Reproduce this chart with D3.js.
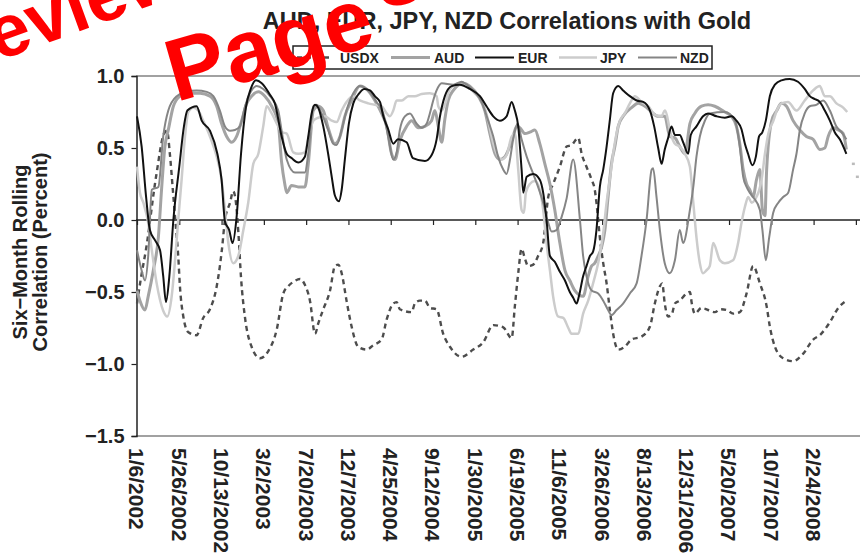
<!DOCTYPE html>
<html><head><meta charset="utf-8">
<script src="https://cdn.jsdelivr.net/npm/d3@7"></script>
<style>
html,body{margin:0;padding:0;background:#fff;}
svg{display:block;font-family:"Liberation Sans",Arial,sans-serif;}
</style></head>
<body><svg id="c" width="862" height="558"></svg>
<script>
const titleText = "AUD, EUR, JPY, NZD Correlations with Gold";
const yTitleLines = ["Six\u2212Month Rolling", "Correlation (Percent)"];
const seriesNames = ["USDX", "AUD", "EUR", "JPY", "NZD"];
const tickWeeks = [0,20,40,60,80,100,120,140,160,180,200,220,240,260,280,300,320,340];
const tickLabels = ["1/6/2002","5/26/2002","10/13/2002","3/2/2003","7/20/2003","12/7/2003","4/25/2004","9/12/2004","1/30/2005","6/19/2005","11/6/2005","3/26/2006","8/13/2006","12/31/2006","5/20/2007","10/7/2007","2/24/2008",""];
const yTicks = [1.0, 0.5, 0.0, -0.5, -1.0, -1.5];

// [week since 1/6/2002, correlation]
const usdxData = [[0,-0.58],[1.9,-0.4],[4.3,-0.2],[9,0.3],[12.8,0.6],[14.2,0.62],[15.6,0.45],[17,0.2],[18.4,-0.05],[19.5,-0.25],[20.3,-0.46],[21.9,-0.67],[24.3,-0.78],[28.2,-0.8],[31.3,-0.68],[34.5,-0.62],[37.7,-0.46],[39.2,-0.32],[40.2,-0.2],[41.6,0],[44,0.12],[45.5,0.2],[46.8,0.12],[48,-0.1],[49.2,-0.4],[51.1,-0.68],[54.2,-0.88],[58.2,-0.96],[62.1,-0.91],[66.1,-0.76],[69.2,-0.51],[71.5,-0.46],[73.9,-0.43],[77.1,-0.41],[79.4,-0.45],[81.8,-0.56],[84.2,-0.79],[85.7,-0.72],[88.1,-0.62],[91.3,-0.49],[93.6,-0.32],[95.2,-0.31],[96.8,-0.37],[99.1,-0.56],[101.5,-0.74],[104.6,-0.88],[108.6,-0.9],[111.7,-0.87],[115.7,-0.83],[118.1,-0.69],[121.2,-0.58],[122.8,-0.57],[124.3,-0.62],[129.9,-0.64],[131.4,-0.58],[133.8,-0.56],[136.2,-0.56],[138.5,-0.61],[141.7,-0.62],[144.8,-0.79],[148,-0.88],[153.5,-0.95],[159,-0.9],[163.7,-0.85],[168.5,-0.73],[173.2,-0.745],[177.2,-0.82],[178.7,-0.6],[180.3,-0.37],[181.9,-0.2],[183.5,-0.27],[185,-0.32],[187.4,-0.31],[189.7,-0.25],[192.1,-0.16],[194.5,0.16],[196.8,0.25],[200,0.37],[203.2,0.51],[205.5,0.52],[208.7,0.57],[210.3,0.46],[212.6,0.37],[215,0.28],[216.5,0.21],[217.3,0.12],[218.9,-0.12],[220.5,-0.3],[222.1,-0.44],[223.6,-0.62],[225.2,-0.79],[227.6,-0.9],[230.7,-0.88],[233.9,-0.83],[238.6,-0.81],[242.6,-0.74],[244.9,-0.58],[247.3,-0.46],[248.4,-0.44],[249.6,-0.58],[251.2,-0.67],[252.8,-0.66],[254.4,-0.58],[256.7,-0.56],[259.9,-0.51],[261.5,-0.5],[262.4,-0.58],[263.8,-0.65],[267,-0.61],[270.1,-0.625],[273.3,-0.64],[276,-0.62],[278.8,-0.625],[282,-0.65],[285.1,-0.64],[288.3,-0.51],[291.4,-0.32],[294.6,-0.44],[297.8,-0.6],[299.3,-0.74],[301.7,-0.88],[305.6,-0.96],[310.3,-0.98],[315,-0.93],[319.8,-0.83],[322.9,-0.8],[327.7,-0.71],[331.7,-0.61],[335.5,-0.56]];

const audData = [[0,-0.49],[1.4,-0.56],[3.8,-0.625],[5.3,-0.53],[7.7,-0.35],[10.1,-0.12],[11.7,0.23],[13.2,0.51],[14.8,0.625],[17.2,0.79],[20.3,0.86],[24.3,0.88],[29.8,0.88],[34.5,0.86],[37.7,0.79],[40,0.67],[42.4,0.58],[44.8,0.54],[47.1,0.58],[49.5,0.69],[51.9,0.81],[54.2,0.86],[57.4,0.89],[60.5,0.86],[63.7,0.79],[66.8,0.67],[68.4,0.4],[69.9,0.25],[70.8,0.19],[73.1,0.24],[76.3,0.23],[79.4,0.23],[81,0.39],[83.4,0.76],[85.7,0.79],[88.1,0.76],[90.4,0.64],[93.6,0.53],[96,0.58],[98.3,0.72],[101.5,0.83],[105.4,0.93],[109.2,0.9],[112.5,0.83],[115.7,0.74],[118.1,0.65],[120.4,0.46],[122,0.42],[124.3,0.55],[127.5,0.65],[129.9,0.69],[133,0.64],[136.2,0.65],[139.3,0.69],[140.9,0.76],[142.5,0.65],[144.1,0.54],[145.6,0.7],[147.2,0.83],[149.6,0.9],[154.3,0.95],[157.4,0.93],[161.4,0.86],[164.5,0.76],[166.9,0.6],[169.3,0.46],[171.6,0.42],[174,0.44],[177.9,0.58],[179.5,0.65],[181.1,0.64],[183.5,0.6],[185.8,0.61],[188.2,0.625],[190.5,0.53],[192.9,0.39],[195.3,0.25],[197.6,0.07],[200,-0.16],[202.4,-0.35],[204.7,-0.42],[207.1,-0.49],[211,-0.53],[213.4,-0.39],[215,-0.32],[216.5,-0.3],[218.1,-0.25],[219.7,-0.19],[221.3,-0.07],[222.8,0.16],[224.4,0.39],[226,0.51],[227.6,0.65],[229.9,0.72],[233.9,0.78],[237,0.81],[240.2,0.79],[243.4,0.75],[246.5,0.72],[249.6,0.72],[252,0.58],[254.4,0.57],[256.7,0.51],[259.1,0.46],[261.5,0.67],[263.8,0.74],[267,0.79],[270.1,0.8],[273.3,0.79],[278,0.75],[281.2,0.72],[283.5,0.65],[285.1,0.53],[286.7,0.35],[288.3,0.25],[289.8,0.21],[291.4,0.16],[293,0.28],[294.6,0.35],[295.8,0.07],[297,0.03],[297.8,0.35],[300.2,0.69],[302.6,0.76],[304.8,0.81],[307.2,0.79],[310.3,0.69],[313.5,0.625],[316.6,0.58],[319.8,0.56],[322.9,0.49],[325.3,0.5],[326.9,0.58],[329.3,0.64],[331.7,0.625],[334,0.6],[335.5,0.49]];

const eurData = [[0,0.72],[2.2,0.51],[4.3,0.16],[6.1,-0.07],[8.5,-0.14],[10.9,-0.21],[12.4,-0.39],[13.7,-0.57],[15.3,-0.39],[17.2,0],[20,0.37],[22.2,0.65],[23.8,0.76],[28.2,0.79],[30.6,0.69],[34.5,0.62],[38,0.46],[40,0.28],[41.6,-0.01],[43.6,-0.07],[45.2,-0.16],[47.1,0.02],[49.2,0.46],[51.5,0.78],[53.8,0.91],[56.3,0.97],[59,0.95],[62.9,0.87],[65.2,0.81],[68.4,0.58],[70.8,0.46],[73.1,0.43],[76.3,0.4],[79.4,0.44],[81,0.58],[82.6,0.74],[84.2,0.8],[85.7,0.78],[88.1,0.65],[90.4,0.46],[92.1,0.3],[93.6,0.17],[95.5,0.13],[96.8,0.21],[98.3,0.42],[100.2,0.67],[102.3,0.81],[104.6,0.87],[107.5,0.91],[110.2,0.9],[112.5,0.86],[114.9,0.82],[116.5,0.72],[118.8,0.63],[121.2,0.53],[123.4,0.56],[127.5,0.54],[130.5,0.43],[136.2,0.41],[139.3,0.45],[141.7,0.56],[143.3,0.72],[145.6,0.86],[148.8,0.93],[152.7,0.94],[157.4,0.91],[162.2,0.86],[165.3,0.79],[168.5,0.72],[171.6,0.69],[174.8,0.72],[177.2,0.82],[178.7,0.76],[180.3,0.65],[181.9,0.35],[182.7,0.19],[184.3,0.3],[187.4,0.32],[190.5,0.28],[192.1,0.19],[193.7,0],[195.3,-0.25],[197.6,-0.29],[200,-0.36],[202.4,-0.42],[204.7,-0.5],[206.3,-0.54],[207.9,-0.58],[209,-0.53],[211,-0.39],[212.6,-0.32],[214.2,-0.25],[215.7,-0.22],[217.3,-0.07],[218.9,0.23],[220.5,0.35],[222.1,0.51],[223.6,0.69],[225.2,0.88],[227.6,0.93],[229.9,0.9],[233.1,0.86],[236.3,0.83],[239.4,0.82],[242.6,0.76],[244.6,0.65],[246.5,0.5],[248.1,0.39],[249.6,0.49],[251.2,0.57],[252.8,0.65],[254.4,0.59],[256.7,0.59],[258.3,0.54],[260.7,0.46],[261.9,0.59],[264.6,0.65],[267.7,0.72],[270.1,0.74],[274.1,0.72],[278,0.71],[281.2,0.72],[283.5,0.69],[285.9,0.63],[287.5,0.53],[289,0.46],[291.1,0.38],[292.7,0.44],[294.2,0.58],[295.8,0.61],[297.4,0.69],[299.3,0.86],[301.7,0.94],[304.8,0.97],[308.7,0.98],[312.6,0.96],[315.8,0.91],[318.2,0.86],[320.6,0.84],[322.9,0.82],[325.3,0.76],[327.7,0.69],[330,0.61],[332.4,0.56],[335.5,0.46]];

const jpyData = [[0,0.37],[1.4,0.19],[3,0.12],[5.3,-0.02],[7,-0.21],[9.3,-0.44],[12.4,-0.63],[14.3,-0.67],[16.4,-0.53],[18,-0.28],[19.5,0],[21.1,0.28],[22.7,0.58],[24.3,0.75],[26.6,0.78],[29,0.76],[31.3,0.69],[34.5,0.58],[37.7,0.44],[40,0.28],[41.6,0.07],[43.2,-0.16],[45.5,-0.3],[47.9,-0.25],[50.3,-0.07],[52.6,0.12],[55,0.39],[57.4,0.46],[59.7,0.65],[61.3,0.79],[63.7,0.74],[66.8,0.65],[68.4,0.61],[70.8,0.6],[73.9,0.47],[76.3,0.46],[79.4,0.47],[81,0.56],[83.4,0.69],[85.7,0.71],[88.9,0.72],[92.1,0.69],[94.4,0.68],[96.8,0.76],[99.1,0.82],[102.3,0.86],[105.4,0.83],[109.4,0.81],[112.5,0.8],[115.7,0.79],[118.1,0.74],[119.6,0.72],[121.2,0.76],[122.8,0.83],[125.2,0.83],[128.3,0.86],[131.4,0.86],[134.6,0.875],[138.5,0.88],[141.7,0.86],[142.5,0.79],[144.1,0.76],[145.6,0.8],[148,0.91],[151.2,0.94],[155.9,0.93],[159.8,0.88],[163.7,0.81],[166.1,0.69],[167.7,0.58],[170.1,0.46],[172.4,0.42],[174.8,0.45],[177.2,0.58],[178.7,0.6],[180.3,0.35],[181.9,0.07],[183,0.05],[183.9,0.19],[185.8,0.25],[188.2,0.27],[190.5,0.21],[192.1,0.07],[193.7,-0.16],[195.3,-0.35],[196.8,-0.53],[199.2,-0.67],[201.6,-0.68],[204,-0.75],[205.5,-0.79],[208.7,-0.79],[211,-0.65],[213.4,-0.56],[215.7,-0.44],[218.1,-0.3],[220.5,-0.09],[222.1,0.12],[223.6,0.28],[225.2,0.46],[226.8,0.6],[228.4,0.69],[230.7,0.74],[233.1,0.81],[235.5,0.86],[238.6,0.82],[241.8,0.79],[245,0.73],[248.1,0.72],[249.6,0.76],[252.8,0.58],[254.4,0.53],[256.7,0.51],[259.1,0.46],[261.5,0.37],[263.1,0.12],[264.6,-0.12],[266.2,-0.3],[267.7,-0.37],[269.3,-0.35],[270.9,-0.32],[272.5,-0.16],[275.7,-0.28],[278,-0.3],[281.9,-0.28],[284.3,-0.16],[285.9,-0.02],[287.5,0.09],[289.1,0.16],[290.7,0.12],[292.2,0.14],[295.4,0.28],[297,0.46],[298.6,0.6],[301,0.69],[302.6,0.76],[304.8,0.81],[307.9,0.82],[311.9,0.76],[315.8,0.83],[319.8,0.9],[322.9,0.93],[325.3,0.86],[327.7,0.86],[330.8,0.81],[334,0.78],[335.9,0.75]];
const jpyTail = [[338.8,0.39],[340.7,0.3]];

const nzdData = [[0,-0.21],[2.2,-0.35],[3.8,-0.42],[5.3,-0.25],[7,0.21],[10.1,0.23],[12.4,0.58],[14.8,0.76],[18.8,0.86],[23.5,0.89],[28.2,0.9],[33,0.89],[36.1,0.86],[39.2,0.76],[41.6,0.65],[44,0.62],[46.3,0.625],[48.7,0.65],[51.1,0.79],[53.4,0.88],[56.6,0.93],[59.7,0.91],[62.9,0.86],[66.8,0.76],[68.4,0.62],[70.8,0.42],[74.7,0.33],[79.4,0.33],[81,0.46],[83.4,0.79],[85,0.8],[87.3,0.74],[90.4,0.625],[92.8,0.53],[94.4,0.52],[96.8,0.625],[99.1,0.76],[102.3,0.88],[105.4,0.93],[111,0.87],[113.3,0.82],[116.5,0.74],[118.8,0.58],[121.2,0.42],[122.8,0.47],[124.3,0.625],[126.7,0.72],[129.1,0.74],[132.2,0.67],[134.6,0.64],[137,0.67],[138.5,0.74],[140.1,0.83],[141.7,0.9],[144.1,0.95],[149.6,0.94],[153.5,0.96],[155.9,0.94],[159,0.9],[163,0.82],[166.1,0.69],[168.5,0.58],[170.8,0.44],[173.2,0.35],[174.8,0.32],[176.4,0.42],[177.9,0.56],[180,0.67],[181.9,0.56],[184.3,0.44],[187.4,0.32],[189.7,0.23],[192.1,0.12],[194.5,-0.02],[196.1,-0.08],[198.4,-0.07],[200.8,0.02],[203.2,0.15],[206.3,0.42],[209.5,0],[211,-0.25],[212.6,-0.39],[215,-0.49],[218.1,-0.51],[220.5,-0.56],[222.8,-0.625],[224.4,-0.66],[226.8,-0.625],[229.9,-0.58],[233.1,-0.51],[236.3,-0.44],[238.6,-0.25],[241,0],[243.4,0.35],[244.1,0.36],[245.7,0.16],[247.3,-0.07],[249.6,-0.3],[252,-0.37],[254.4,-0.28],[256.7,-0.07],[258.3,-0.16],[261.5,0.07],[263.1,0.23],[264.6,0.44],[266.2,0.58],[268.6,0.69],[270.9,0.74],[278,0.75],[282.8,0.69],[285.1,0.51],[286.7,0.3],[288.3,0.23],[289.8,0.19],[291.4,0.16],[294.6,0.07],[295.8,-0.07],[297.4,-0.28],[299,-0.12],[300.9,0.05],[303.3,0.12],[305.6,0.16],[308,0.19],[310.3,0.35],[311.9,0.46],[313.5,0.625],[315.8,0.74],[318.2,0.79],[321.3,0.8],[324.5,0.83],[327.7,0.76],[330.8,0.65],[333.2,0.61],[335.5,0.56]];

const svg = d3.select("#c");
const x = d3.scaleLinear().domain([0, 341]).range([137, 858]);
const y = d3.scaleLinear().domain([-1.5, 1]).range([436, 76]);

const styles = {
  USDX: {color: "#4d4d4d", width: 2.4, dash: "5,4"},
  AUD:  {color: "#a3a3a3", width: 3, dash: null},
  EUR:  {color: "#111111", width: 2, dash: null},
  JPY:  {color: "#cccccc", width: 2.5, dash: null},
  NZD:  {color: "#858585", width: 2, dash: null}
};
const dataByName = {USDX: usdxData, AUD: audData, EUR: eurData, JPY: jpyData, NZD: nzdData};

// frame lines top and bottom
svg.append("line").attr("x1", 136).attr("x2", 860).attr("y1", y(1)).attr("y2", y(1)).attr("stroke", "#444").attr("stroke-width", 1.2);
svg.append("line").attr("x1", 136).attr("x2", 860).attr("y1", y(-1.5)).attr("y2", y(-1.5)).attr("stroke", "#444").attr("stroke-width", 1.2);

// y axis
const yAxis = d3.axisLeft(y).tickValues(yTicks).tickSize(5).tickPadding(7)
  .tickFormat(d => d3.format(".1f")(d).replace("-", "\u2212"));
const gy = svg.append("g").attr("transform", "translate(136.5,0)").call(yAxis);
gy.select(".domain").attr("stroke", "#222").attr("stroke-width", 1.5);
gy.selectAll(".tick line").attr("stroke", "#222").attr("stroke-width", 1.2);
gy.selectAll("text").attr("font-size", 20).attr("font-weight", "bold").attr("fill", "#222")
  .attr("font-family", "'Liberation Sans', Arial, sans-serif");

// x axis on zero line
const xAxis = d3.axisBottom(x).tickValues(tickWeeks).tickSize(5).tickFormat("");
const gx = svg.append("g").attr("transform", `translate(0,${y(0)})`).call(xAxis);
gx.select(".domain").attr("d", `M136,0H860`).attr("stroke", "#222").attr("stroke-width", 1.5);
gx.selectAll(".tick line").attr("stroke", "#222").attr("stroke-width", 1.2);

// x labels rotated at bottom
svg.append("g").selectAll("text").data(tickWeeks.map((w, i) => ({w, label: tickLabels[i]})))
  .join("text")
  .attr("transform", d => `translate(${x(d.w)},448) rotate(90)`)
  .attr("dy", "0.36em")
  .attr("font-size", 21).attr("font-weight", "bold").attr("fill", "#222")
  .text(d => d.label);

// lines
const line = d3.line().x(d => x(d[0])).y(d => y(d[1])).curve(d3.curveMonotoneX);
const order = ["USDX", "AUD", "JPY", "NZD", "EUR"];
order.forEach(n => {
  const s = styles[n];
  svg.append("path").datum(dataByName[n])
    .attr("fill", "none").attr("stroke", s.color).attr("stroke-width", s.width)
    .attr("stroke-dasharray", s.dash).attr("stroke-linejoin", "round")
    .attr("d", line);
});
svg.selectAll(".tail").data(jpyTail).join("line").attr("class", "tail")
  .attr("x1", d => x(d[0]) - 1.5).attr("x2", d => x(d[0]) + 1.5)
  .attr("y1", d => y(d[1])).attr("y2", d => y(d[1]))
  .attr("stroke", "#bbbbbb").attr("stroke-width", 2.5);

// title
svg.append("text").attr("x", 507).attr("y", 29).attr("text-anchor", "middle")
  .attr("font-size", 23.5).attr("font-weight", "bold").attr("fill", "#222").text(titleText);

// y title
const yt = svg.append("text").attr("transform", "translate(0,252) rotate(-90)")
  .attr("text-anchor", "middle").attr("font-size", 20).attr("font-weight", "bold").attr("fill", "#222");
yt.selectAll("tspan").data(yTitleLines).join("tspan")
  .attr("x", 0).attr("y", (d, i) => 27 + i * 20).text(d => d);

// legend
const lg = svg.append("g");
lg.append("rect").attr("x", 293).attr("y", 46).attr("width", 419).attr("height", 23)
  .attr("fill", "#fff").attr("stroke", "#222").attr("stroke-width", 1.5);
const legendPos = [{n: "USDX", x1: 297, x2: 331, tx: 340}, {n: "AUD", x1: 391, x2: 430, tx: 434},
  {n: "EUR", x1: 475, x2: 514, tx: 518}, {n: "JPY", x1: 559, x2: 597, tx: 600}, {n: "NZD", x1: 638, x2: 677, tx: 680}];
legendPos.forEach(p => {
  const s = styles[p.n];
  lg.append("line").attr("x1", p.x1).attr("x2", p.x2).attr("y1", 57.5).attr("y2", 57.5)
    .attr("stroke", s.color).attr("stroke-width", s.width).attr("stroke-dasharray", s.dash);
  lg.append("text").attr("x", p.tx).attr("y", 63).attr("font-size", 14).attr("font-weight", "bold")
    .attr("fill", "#222").text(p.n);
});

// watermark
svg.append("text").attr("transform", "translate(-76,88) rotate(-20)")
  .attr("font-size", 74).attr("font-weight", "bold").attr("fill", "#ff0000").text("Preview");
svg.append("text").attr("transform", "translate(176,102) rotate(-16)")
  .attr("font-size", 88).attr("font-weight", "bold").attr("fill", "#ff0000").text("Page");
svg.append("text").attr("transform", "translate(382,10) rotate(-16)")
  .attr("font-size", 88).attr("font-weight", "bold").attr("fill", "#ff0000").text("3");
</script></body></html>
